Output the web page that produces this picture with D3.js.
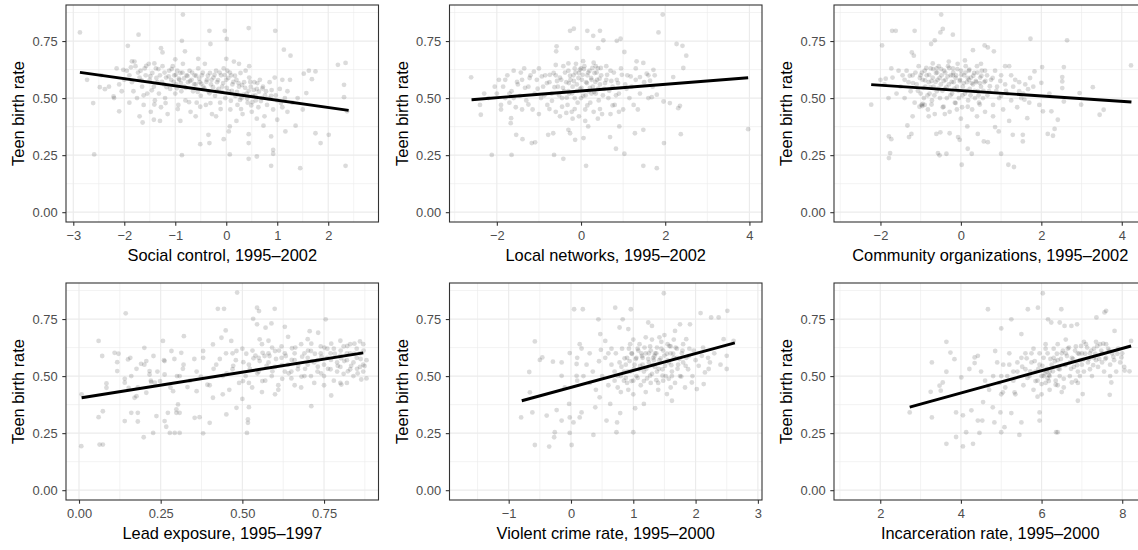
<!DOCTYPE html>
<html>
<head>
<meta charset="utf-8">
<script src="https://d3js.org/d3.v7.min.js"></script>
<style>
  html, body { margin: 0; padding: 0; background: #ffffff; }
  svg { display: block; }
</style>
</head>
<body>
<svg id="chart" width="1138" height="550"></svg>
<script>
// ---- Data -------------------------------------------------------------

const yTicks = [0, 0.25, 0.5, 0.75];
const yMinor = [0.125, 0.375, 0.625, 0.875];
const yLimits = [-0.043, 0.908];
const yTitle = "Teen birth rate";

const xTitles = [
  "Social control, 1995–2002",
  "Local networks, 1995–2002",
  "Community organizations, 1995–2002",
  "Lead exposure, 1995–1997",
  "Violent crime rate, 1995–2000",
  "Incarceration rate, 1995–2000"
];

const xLimits = [
  [-3.143, 2.986],
  [-3.124, 4.299],
  [-3.155, 4.615],
  [-0.0398, 0.9167],
  [-1.950, 3.066],
  [0.853, 8.602]
];

const xTicks = [
  [-3, -2, -1, 0, 1, 2],
  [-2, 0, 2, 4],
  [-2, 0, 2, 4],
  [0, 0.25, 0.5, 0.75],
  [-1, 0, 1, 2, 3],
  [2, 4, 6, 8]
];

const xMinor = [
  [-2.5, -1.5, -0.5, 0.5, 1.5, 2.5],
  [-3, -1, 1, 3],
  [-3, -1, 1, 3],
  [0.125, 0.375, 0.625, 0.875],
  [-1.5, -0.5, 0.5, 1.5, 2.5],
  [1, 3, 5, 7]
];

// fitted linear trend: [x start, y start, x end, y end]
const fitSocialControl = [-2.87, 0.613, 2.40, 0.446];
const fitLocalNetworks = [-2.60, 0.493, 3.97, 0.589];
const fitCommunityOrgs = [-2.23, 0.559, 4.24, 0.483];
const fitLeadExposure = [0.008, 0.405, 0.870, 0.602];
const fitViolentCrime = [-0.79, 0.392, 2.63, 0.646];
const fitIncarceration = [2.73, 0.364, 8.22, 0.632];

const ptsSocialControl = [
  [-2.87,0.788],[-1.72,0.778],[-0.85,0.866],[-0.33,0.795],[-0.03,0.795],[0.44,0.807],[0.96,0.795],
  [-0.87,0.751],[0.01,0.759],[-1.93,0.729],[-1.28,0.719],[-1.25,0.70],[-0.81,0.705],[-0.31,0.737],
  [1.13,0.712],[1.26,0.686],[-2.61,0.478],[-2.59,0.253],[-0.87,0.25],[0.07,0.253],[0.44,0.234],
  [0.60,0.244],[0.88,0.203],[1.45,0.193],[2.34,0.203],[2.34,0.654],[2.19,0.646],[2.31,0.558],
  [2.31,0.504],[2.37,0.442],[2.01,0.339],[1.75,0.346],[1.85,0.303],[1.36,0.379],[1.52,0.607],
  [1.62,0.62],[1.75,0.617],[1.68,0.583],[1.57,0.522],[-2.10,0.442],[-2.73,0.58],[-2.48,0.548],
  [-2.38,0.539],[-2.21,0.507],[-2.02,0.624],[-1.85,0.661],[-1.64,0.393],[-1.42,0.405],[-0.51,0.298],
  [-0.35,0.339],[-0.33,0.303],[-0.05,0.32],[0.05,0.354],[0.07,0.376],[0.44,0.342],[0.44,0.303],
  [0.88,0.332],[0.92,0.273],[0.92,0.256],[0.73,0.379],[1.00,0.405],[1.16,0.354],
  [-1.95,0.62],[-1.9,0.6],[-1.85,0.57],[-1.82,0.53],[-1.78,0.64],[-1.75,0.5],[-1.7,0.59],[-1.68,0.62],
  [-1.65,0.55],[-1.62,0.47],[-1.6,0.63],[-1.58,0.6],[-1.55,0.52],[-1.52,0.65],[-1.5,0.58],[-1.48,0.44],
  [-1.45,0.61],[-1.42,0.55],[-1.4,0.49],[-1.38,0.63],[-1.35,0.57],[-1.32,0.52],[-1.3,0.6],[-1.28,0.46],
  [-1.25,0.64],[-1.22,0.56],[-1.2,0.5],[-1.18,0.59],[-1.15,0.43],[-1.12,0.62],[-1.1,0.54],[-1.08,0.58],
  [-1.05,0.64],[-1.02,0.6],[-1.0,0.52],[-0.98,0.56],[-0.96,0.62],[-0.94,0.47],[-0.92,0.58],[-0.9,0.61],
  [-0.88,0.53],[-0.85,0.65],[-0.82,0.55],[-0.8,0.49],[-0.78,0.6],[-0.75,0.57],[-0.72,0.62],[-0.7,0.44],
  [-0.68,0.58],[-0.65,0.53],[-0.62,0.6],[-0.6,0.56],[-0.58,0.48],[-0.55,0.63],[-0.52,0.57],[-0.5,0.51],
  [-0.48,0.6],[-0.45,0.55],[-0.42,0.65],[-0.4,0.47],[-0.38,0.58],[-0.35,0.53],[-0.32,0.61],[-0.3,0.56],
  [-0.28,0.43],[-0.25,0.59],[-0.22,0.51],[-0.2,0.62],[-0.18,0.57],[-0.15,0.54],[-0.12,0.48],[-0.1,0.6],
  [-0.08,0.55],[-0.05,0.63],[-0.02,0.5],[0.0,0.58],[0.02,0.62],[0.05,0.53],[0.08,0.45],[0.1,0.6],
  [0.12,0.56],[0.15,0.66],[0.18,0.51],[0.2,0.58],[0.22,0.47],[0.25,0.55],[0.28,0.61],[0.3,0.5],
  [0.32,0.43],[0.35,0.57],[0.38,0.62],[0.4,0.52],[0.42,0.48],[0.45,0.59],[0.48,0.55],[0.5,0.44],
  [0.52,0.51],[0.55,0.57],[0.58,0.49],[0.6,0.54],[0.63,0.46],[0.66,0.58],[0.7,0.5],[0.72,0.55],
  [0.75,0.42],[0.78,0.53],[0.8,0.47],[0.85,0.57],[0.88,0.51],[0.92,0.45],[0.95,0.59],[1.0,0.49],
  [1.05,0.54],[1.1,0.46],[1.15,0.5],[1.2,0.44],[1.25,0.58],[1.3,0.48],[-2.2,0.5],[-2.1,0.56],
  [-2.0,0.58],[-1.9,0.48],[-2.3,0.55],[-1.7,0.42],[-1.3,0.4],[-0.9,0.4],[-0.6,0.42],[-0.2,0.42],
  [0.2,0.4],[0.6,0.41],
  [-1.87,0.635],[-1.73,0.612],[-1.66,0.578],[-1.57,0.641],[-1.49,0.596],[-1.46,0.534],[-1.37,0.588],
  [-1.33,0.627],[-1.26,0.571],[-1.21,0.612],[-1.17,0.548],[-1.13,0.595],[-1.07,0.627],[-1.03,0.571],
  [-0.99,0.602],[-0.97,0.543],[-0.93,0.585],[-0.89,0.566],[-0.86,0.612],[-0.83,0.586],[-0.79,0.545],
  [-0.76,0.597],[-0.71,0.575],[-0.67,0.612],[-0.63,0.561],[-0.59,0.598],[-0.56,0.527],[-0.53,0.585],
  [-0.49,0.563],[-0.46,0.611],[-0.43,0.542],[-0.39,0.571],[-0.36,0.598],[-0.33,0.521],[-0.29,0.58],
  [-0.26,0.548],[-0.23,0.602],[-0.19,0.532],[-0.16,0.579],[-0.13,0.612],[-0.09,0.527],[-0.06,0.566],
  [-0.03,0.601],[0.01,0.545],[0.04,0.588],[0.07,0.612],[0.11,0.532],[0.14,0.571],[0.17,0.598],
  [0.21,0.527],[0.24,0.566],[0.27,0.492],[0.31,0.557],[0.34,0.515],[0.37,0.545],[0.41,0.498],
  [0.44,0.532],[0.47,0.571],[0.51,0.482],[0.54,0.536],[0.57,0.512],[0.61,0.566],[0.64,0.528],
  [0.68,0.487],[0.71,0.542],[0.76,0.512],[0.83,0.498],[0.89,0.535],[0.97,0.512],[1.07,0.478],
  [-1.62,0.512],[-1.41,0.472],[-1.19,0.478],[-0.95,0.452],[-0.73,0.482],[-0.51,0.462],[-0.31,0.478],
  [-0.11,0.452],[0.09,0.488],[0.29,0.452],[0.49,0.468],[-1.8,0.66],[-1.41,0.652],[-1.0,0.67],
  [-0.55,0.672],[0.0,0.672],[0.25,0.65],[0.45,0.64],[-2.05,0.53],[-2.45,0.6],[-2.15,0.63],
  [1.4,0.5],[1.5,0.45],[1.1,0.58],[1.2,0.53]
];

const ptsLocalNetworks = [
  [-2.61,0.591],[-2.38,0.427],[-2.12,0.251],[-1.65,0.251],[-1.54,0.339],[-1.39,0.32],[-1.17,0.303],
  [-1.09,0.306],[-1.66,0.412],[-1.67,0.39],[-0.78,0.339],[-0.66,0.346],[-0.64,0.251],[-0.42,0.234],
  [-0.26,0.346],[-0.30,0.361],[-0.14,0.317],[0.06,0.325],[0.12,0.203],[-0.26,0.795],[-0.17,0.804],
  [0.15,0.795],[0.45,0.795],[0.29,0.773],[0.53,0.753],[0.85,0.751],[0.94,0.76],[1.03,0.702],
  [-0.10,0.719],[-0.58,0.727],[-0.59,0.705],[0.41,0.719],[1.84,0.788],[1.94,0.866],[2.27,0.737],
  [2.41,0.729],[2.50,0.686],[2.43,0.632],[2.19,0.592],[2.11,0.478],[1.96,0.485],[2.31,0.456],
  [2.35,0.466],[2.37,0.342],[1.97,0.303],[1.48,0.203],[1.80,0.193],[1.48,0.361],[1.28,0.346],
  [0.83,0.278],[1.03,0.256],[0.69,0.329],[0.91,0.376],[0.17,0.376],[3.97,0.364],[1.72,0.624],
  [1.68,0.504],[1.80,0.515],[1.64,0.576],[1.40,0.592],[1.32,0.661],[1.48,0.654],[1.56,0.607],
  [-2.0,0.52],[-1.95,0.58],[-1.9,0.47],[-1.85,0.55],[-1.8,0.5],[-1.75,0.6],[-1.7,0.48],[-1.65,0.53],
  [-1.6,0.62],[-1.55,0.46],[-1.5,0.56],[-1.45,0.51],[-1.4,0.58],[-1.35,0.63],[-1.3,0.49],[-1.25,0.55],
  [-1.2,0.6],[-1.15,0.45],[-1.1,0.52],[-1.05,0.58],[-1.0,0.63],[-0.95,0.5],[-0.9,0.55],[-0.85,0.6],
  [-0.8,0.47],[-0.75,0.57],[-0.7,0.52],[-0.65,0.61],[-0.6,0.44],[-0.55,0.55],[-0.5,0.59],[-0.45,0.5],
  [-0.42,0.64],[-0.4,0.53],[-0.35,0.57],[-0.32,0.47],[-0.3,0.62],[-0.28,0.52],[-0.25,0.58],[-0.22,0.44],
  [-0.2,0.55],[-0.18,0.6],[-0.15,0.5],[-0.12,0.65],[-0.1,0.56],[-0.08,0.48],[-0.05,0.61],[-0.02,0.54],
  [0.0,0.63],[0.02,0.58],[0.05,0.51],[0.08,0.64],[0.1,0.45],[0.12,0.57],[0.15,0.6],[0.18,0.53],
  [0.2,0.62],[0.22,0.48],[0.25,0.58],[0.28,0.55],[0.3,0.44],[0.32,0.61],[0.35,0.52],[0.38,0.58],
  [0.4,0.63],[0.42,0.49],[0.45,0.56],[0.48,0.6],[0.5,0.43],[0.55,0.54],[0.6,0.58],[0.65,0.5],
  [0.7,0.62],[0.75,0.55],[0.8,0.47],[0.85,0.58],[0.9,0.52],[0.95,0.63],[1.0,0.45],[1.05,0.56],
  [1.1,0.6],[1.15,0.5],[1.2,0.55],[1.25,0.47],[1.3,0.58],[1.4,0.52],[1.5,0.57],[1.6,0.6],
  [-0.5,0.42],[-0.2,0.41],[0.1,0.4],[0.4,0.41],[0.7,0.43],[-1.0,0.43],[-1.4,0.45],[0.0,0.5],
  [-0.3,0.53],[0.25,0.52],[-0.6,0.6],[0.6,0.64],[-0.15,0.63],[0.35,0.64],[-1.6,0.5],[1.7,0.55],
  [-2.2,0.5],[-2.4,0.47],
  [-1.52,0.571],[-1.43,0.612],[-1.33,0.545],[-1.22,0.588],[-1.12,0.616],[-1.03,0.541],[-0.93,0.595],
  [-0.87,0.512],[-0.81,0.566],[-0.74,0.602],[-0.69,0.488],[-0.63,0.548],[-0.57,0.575],[-0.52,0.512],
  [-0.47,0.58],[-0.43,0.545],[-0.38,0.612],[-0.34,0.502],[-0.29,0.566],[-0.26,0.598],[-0.21,0.521],
  [-0.17,0.575],[-0.13,0.612],[-0.09,0.532],[-0.06,0.588],[-0.03,0.625],[0.01,0.545],[0.04,0.602],
  [0.07,0.627],[0.11,0.512],[0.14,0.566],[0.17,0.612],[0.21,0.545],[0.24,0.588],[0.27,0.632],
  [0.31,0.527],[0.34,0.571],[0.37,0.612],[0.41,0.541],[0.44,0.585],[0.47,0.632],[0.52,0.512],
  [0.57,0.566],[0.62,0.602],[0.67,0.532],[0.72,0.575],[0.78,0.612],[0.83,0.512],[0.88,0.566],
  [0.97,0.602],[1.08,0.541],[1.18,0.595],[-0.45,0.462],[-0.15,0.452],[0.15,0.468],[0.45,0.452],
  [-0.75,0.452],[-1.25,0.472],[0.75,0.468],[-0.3,0.652],[0.05,0.662],[0.3,0.655],[-0.6,0.645],
  [-1.8,0.58],[-1.9,0.45],[-2.05,0.55],[1.75,0.6],[1.6,0.5],[1.3,0.63],[0.9,0.44],[-0.05,0.42],
  [-0.35,0.435],[1.35,0.45],[-1.7,0.52],[-2.3,0.52]
];

const ptsCommunityOrgs = [
  [-2.23,0.471],[-1.96,0.731],[-1.87,0.585],[-1.79,0.332],[-1.73,0.32],[-1.76,0.259],[-1.79,0.237],
  [-1.71,0.795],[-1.62,0.795],[-1.73,0.63],[-1.33,0.38],[-1.29,0.329],[-1.23,0.343],[-1.15,0.795],
  [-1.22,0.70],[-1.17,0.686],[-0.74,0.737],[-0.65,0.753],[-0.51,0.788],[-0.45,0.803],[-0.49,0.866],
  [-0.20,0.778],[-0.61,0.343],[-0.51,0.35],[-0.28,0.346],[-0.57,0.259],[-0.53,0.249],[-0.36,0.256],
  [-0.07,0.329],[-0.03,0.317],[0.02,0.208],[0.17,0.278],[0.27,0.256],[0.16,0.376],[0.42,0.343],
  [0.30,0.71],[0.59,0.731],[0.67,0.722],[0.82,0.705],[0.57,0.31],[0.67,0.307],[0.85,0.373],
  [0.94,0.354],[1.00,0.256],[1.18,0.208],[1.32,0.198],[1.29,0.339],[1.54,0.339],[1.54,0.31],
  [1.73,0.76],[2.64,0.753],[2.56,0.636],[2.52,0.592],[2.52,0.573],[2.52,0.544],[2.56,0.485],
  [2.25,0.442],[2.16,0.343],[2.29,0.335],[2.33,0.365],[2.41,0.405],[2.95,0.522],[2.99,0.471],
  [3.28,0.548],[3.45,0.427],[3.55,0.449],[4.23,0.643],[2.02,0.636],[2.00,0.567],[2.04,0.442],
  [1.83,0.617],[1.72,0.588],[1.67,0.539],[1.58,0.493],[1.65,0.412],
  [-1.5,0.55],[-1.45,0.6],[-1.4,0.5],[-1.35,0.62],[-1.3,0.57],[-1.25,0.53],[-1.2,0.6],[-1.15,0.48],
  [-1.1,0.56],[-1.05,0.64],[-1.0,0.52],[-0.98,0.47],[-0.95,0.58],[-0.92,0.5],[-0.9,0.62],[-0.88,0.55],
  [-0.85,0.6],[-0.82,0.45],[-0.8,0.57],[-0.78,0.52],[-0.75,0.63],[-0.72,0.49],[-0.7,0.59],[-0.68,0.55],
  [-0.65,0.43],[-0.62,0.61],[-0.6,0.53],[-0.58,0.58],[-0.55,0.64],[-0.52,0.5],[-0.5,0.56],[-0.48,0.6],
  [-0.45,0.46],[-0.42,0.62],[-0.4,0.54],[-0.38,0.58],[-0.35,0.5],[-0.32,0.64],[-0.3,0.56],[-0.28,0.44],
  [-0.25,0.6],[-0.22,0.52],[-0.2,0.63],[-0.18,0.57],[-0.15,0.48],[-0.12,0.6],[-0.1,0.55],[-0.08,0.65],
  [-0.05,0.5],[-0.02,0.58],[0.0,0.62],[0.03,0.46],[0.05,0.55],[0.08,0.6],[0.1,0.52],[0.12,0.64],
  [0.15,0.57],[0.18,0.49],[0.2,0.62],[0.22,0.54],[0.25,0.59],[0.28,0.45],[0.3,0.56],[0.33,0.61],
  [0.35,0.5],[0.38,0.57],[0.4,0.64],[0.42,0.53],[0.45,0.48],[0.48,0.59],[0.5,0.55],[0.52,0.62],
  [0.55,0.5],[0.58,0.57],[0.6,0.44],[0.65,0.6],[0.7,0.53],[0.75,0.58],[0.8,0.47],[0.85,0.62],
  [0.9,0.55],[0.95,0.5],[1.0,0.6],[1.05,0.45],[1.1,0.56],[1.15,0.52],[1.2,0.64],[1.25,0.49],
  [1.3,0.55],[1.35,0.58],[1.4,0.46],[1.45,0.53],[1.5,0.5],[1.6,0.56],[1.7,0.48],[-1.6,0.52],
  [-1.7,0.59],[-1.8,0.5],[-1.9,0.56],[-2.0,0.58],[-1.2,0.42],[-0.8,0.42],[-0.4,0.43],[0.0,0.41],
  [0.4,0.42],[0.8,0.42],[1.2,0.4],[-1.0,0.6],[-0.6,0.63],[-0.2,0.6],[0.2,0.58],[0.6,0.62],
  [-0.9,0.47],[-0.1,0.45],[1.0,0.51],
  [-1.27,0.598],[-1.19,0.566],[-1.13,0.612],[-1.07,0.532],[-1.02,0.588],[-0.97,0.612],[-0.93,0.545],
  [-0.89,0.578],[-0.86,0.632],[-0.83,0.512],[-0.79,0.602],[-0.76,0.548],[-0.73,0.575],[-0.69,0.627],
  [-0.66,0.512],[-0.63,0.571],[-0.59,0.612],[-0.56,0.541],[-0.53,0.588],[-0.49,0.627],[-0.46,0.532],
  [-0.43,0.575],[-0.39,0.612],[-0.36,0.548],[-0.33,0.595],[-0.29,0.632],[-0.26,0.512],[-0.23,0.571],
  [-0.19,0.612],[-0.16,0.541],[-0.13,0.588],[-0.09,0.627],[-0.06,0.532],[-0.03,0.575],[0.01,0.602],
  [0.04,0.512],[0.07,0.566],[0.11,0.612],[0.14,0.532],[0.17,0.588],[0.21,0.625],[0.24,0.512],
  [0.27,0.566],[0.31,0.598],[0.34,0.532],[0.37,0.575],[0.41,0.612],[0.44,0.512],[0.47,0.566],
  [0.51,0.598],[0.56,0.532],[0.61,0.575],[0.66,0.512],[0.72,0.552],[0.79,0.588],[0.88,0.532],
  [0.98,0.575],[1.12,0.532],[-1.03,0.462],[-0.73,0.472],[-0.43,0.462],[-0.13,0.478],[0.17,0.462],
  [0.47,0.472],[-0.96,0.465],[-0.95,0.475],[-1.4,0.58],[-1.55,0.62],[1.25,0.6],[1.45,0.57],
  [1.55,0.52],[1.8,0.55],[1.95,0.47],[2.2,0.52],[-0.3,0.66],[0.1,0.665],[0.5,0.65],[-0.7,0.652],
  [1.1,0.64]
];

const ptsLeadExposure = [
  [0.007,0.193],[0.008,0.42],[0.06,0.654],[0.06,0.32],[0.063,0.2],[0.073,0.2],[0.071,0.588],
  [0.073,0.346],[0.084,0.468],[0.084,0.449],[0.109,0.602],[0.117,0.561],[0.117,0.522],[0.14,0.488],
  [0.14,0.471],[0.143,0.775],[0.14,0.303],[0.15,0.573],[0.157,0.58],[0.16,0.339],[0.17,0.405],
  [0.176,0.412],[0.176,0.532],[0.18,0.301],[0.18,0.339],[0.19,0.554],[0.198,0.232],[0.2,0.624],
  [0.206,0.566],[0.206,0.427],[0.216,0.522],[0.216,0.507],[0.221,0.474],[0.232,0.471],[0.227,0.251],
  [0.237,0.325],[0.257,0.654],[0.262,0.566],[0.262,0.507],[0.262,0.303],[0.267,0.278],[0.272,0.339],
  [0.278,0.251],[0.283,0.61],[0.288,0.434],[0.293,0.251],[0.298,0.354],[0.298,0.339],[0.303,0.376],
  [0.308,0.251],[0.308,0.339],[0.308,0.5],[0.313,0.602],[0.321,0.675],[0.36,0.434],[0.354,0.317],
  [0.369,0.32],[0.38,0.249],[0.38,0.61],[0.41,0.639],[0.41,0.405],[0.40,0.295],[0.425,0.795],
  [0.444,0.795],[0.436,0.668],[0.449,0.70],[0.451,0.332],[0.484,0.866],[0.466,0.654],[0.482,0.61],
  [0.482,0.361],[0.517,0.31],[0.517,0.295],[0.514,0.251],[0.52,0.364],[0.533,0.751],[0.545,0.80],
  [0.551,0.785],[0.545,0.727],[0.553,0.661],[0.568,0.588],[0.571,0.712],[0.599,0.795],[0.589,0.731],
  [0.63,0.716],[0.706,0.697],[0.711,0.368],[0.732,0.69],[0.755,0.749],[0.772,0.415],[0.864,0.485],
  [0.874,0.544],[0.803,0.463],
  [0.4,0.46],[0.42,0.55],[0.44,0.5],[0.45,0.6],[0.46,0.44],[0.47,0.53],[0.48,0.57],[0.49,0.47],
  [0.5,0.62],[0.51,0.5],[0.52,0.55],[0.53,0.45],[0.54,0.59],[0.55,0.52],[0.56,0.64],[0.57,0.48],
  [0.58,0.56],[0.58,0.6],[0.59,0.5],[0.6,0.54],[0.61,0.46],[0.62,0.58],[0.62,0.63],[0.63,0.52],
  [0.64,0.55],[0.65,0.49],[0.66,0.6],[0.66,0.57],[0.67,0.53],[0.68,0.64],[0.69,0.5],[0.7,0.58],
  [0.7,0.55],[0.71,0.61],[0.72,0.47],[0.72,0.56],[0.73,0.52],[0.74,0.6],[0.74,0.63],[0.75,0.55],
  [0.75,0.5],[0.76,0.58],[0.77,0.6],[0.77,0.53],[0.78,0.62],[0.78,0.48],[0.79,0.56],[0.8,0.59],
  [0.8,0.54],[0.81,0.63],[0.81,0.51],[0.82,0.57],[0.82,0.6],[0.83,0.53],[0.83,0.64],[0.84,0.56],
  [0.84,0.5],[0.85,0.62],[0.85,0.58],[0.86,0.54],[0.86,0.6],[0.87,0.52],[0.87,0.64],[0.88,0.57],
  [0.88,0.49],[0.36,0.52],[0.38,0.58],[0.34,0.48],[0.32,0.55],[0.3,0.5],[0.28,0.45],[0.26,0.57],
  [0.24,0.52],[0.22,0.48],[0.2,0.55],[0.18,0.45],[0.16,0.5],[0.44,0.42],[0.5,0.4],[0.56,0.43],
  [0.6,0.42],[0.66,0.46],[0.52,0.47],[0.47,0.6],[0.6,0.61],[0.65,0.52],[0.69,0.6],[0.73,0.57],
  [0.79,0.52],[0.83,0.6],[0.87,0.55],[0.55,0.58],[0.63,0.6],[0.71,0.5],[0.76,0.62],[0.8,0.47],
  [0.503,0.561],[0.512,0.598],[0.523,0.532],[0.534,0.578],[0.546,0.512],[0.553,0.566],[0.562,0.602],
  [0.574,0.545],[0.583,0.588],[0.592,0.521],[0.603,0.575],[0.612,0.612],[0.621,0.548],[0.633,0.588],
  [0.642,0.512],[0.651,0.571],[0.662,0.625],[0.671,0.545],[0.683,0.585],[0.692,0.532],[0.701,0.612],
  [0.713,0.566],[0.722,0.598],[0.731,0.541],[0.742,0.585],[0.751,0.625],[0.762,0.532],[0.771,0.571],
  [0.783,0.598],[0.792,0.545],[0.801,0.612],[0.812,0.566],[0.821,0.632],[0.833,0.545],[0.842,0.598],
  [0.851,0.532],[0.862,0.575],[0.871,0.612],[0.843,0.642],[0.823,0.521],[0.853,0.512],[0.802,0.578],
  [0.772,0.642],[0.741,0.512],[0.711,0.642],[0.681,0.498],[0.652,0.622],[0.622,0.488],[0.591,0.625],
  [0.561,0.478],[0.531,0.612],[0.502,0.478],[0.472,0.545],[0.452,0.512],[0.431,0.575],[0.412,0.532],
  [0.393,0.462],[0.373,0.498],[0.353,0.575],[0.332,0.452],[0.318,0.532],[0.292,0.575],[0.248,0.478],
  [0.228,0.588],[0.152,0.448],[0.121,0.598],[0.61,0.44],[0.68,0.45],[0.75,0.46],[0.82,0.47],
  [0.58,0.655],[0.7,0.662],[0.8,0.655],[0.86,0.652],[0.64,0.672]
];

const ptsViolentCrime = [
  [-0.80,0.319],[-0.67,0.518],[-0.66,0.429],[-0.62,0.341],[-0.58,0.652],[-0.58,0.198],[-0.50,0.571],
  [-0.46,0.582],[-0.39,0.327],[-0.35,0.191],[-0.29,0.563],[-0.23,0.351],[-0.26,0.254],[-0.27,0.232],
  [-0.15,0.56],[-0.15,0.305],[-0.15,0.501],[-0.03,0.378],[-0.02,0.601],[-0.02,0.319],[-0.02,0.251],
  [0.01,0.198],[0.04,0.297],[0.05,0.793],[0.19,0.793],[0.09,0.553],[0.09,0.501],[0.14,0.319],
  [0.17,0.341],[0.14,0.64],[0.17,0.621],[0.36,0.242],[0.39,0.363],[0.44,0.749],[0.47,0.684],
  [0.48,0.615],[0.46,0.407],[0.57,0.305],[0.55,0.654],[0.63,0.378],[0.73,0.254],[0.74,0.297],
  [0.79,0.338],[0.71,0.80],[0.78,0.713],[0.83,0.749],[0.92,0.706],[0.96,0.793],[1.00,0.254],
  [1.03,0.359],[1.17,0.378],[1.24,0.735],[1.30,0.72],[1.49,0.863],[1.62,0.392],[1.54,0.421],
  [1.67,0.698],[1.75,0.727],[1.91,0.727],[1.85,0.662],[1.94,0.472],[2.02,0.443],[2.08,0.776],
  [2.25,0.757],[2.37,0.757],[2.51,0.786],[2.21,0.531],[2.23,0.56],[2.10,0.589],[2.15,0.516],
  [2.50,0.531],[2.50,0.589],[2.45,0.662],[2.61,0.654],[2.13,0.465],
  [0.5,0.5],[0.55,0.58],[0.6,0.46],[0.65,0.55],[0.7,0.52],[0.72,0.6],[0.75,0.45],[0.78,0.56],
  [0.8,0.5],[0.82,0.62],[0.85,0.48],[0.88,0.55],[0.9,0.58],[0.92,0.44],[0.95,0.52],[0.97,0.6],
  [1.0,0.48],[1.02,0.55],[1.05,0.5],[1.07,0.62],[1.1,0.53],[1.12,0.46],[1.15,0.58],[1.17,0.52],
  [1.2,0.6],[1.22,0.49],[1.25,0.56],[1.27,0.63],[1.3,0.51],[1.32,0.58],[1.35,0.54],[1.37,0.6],
  [1.4,0.47],[1.42,0.57],[1.45,0.62],[1.47,0.53],[1.5,0.59],[1.52,0.5],[1.55,0.64],[1.57,0.56],
  [1.6,0.6],[1.62,0.52],[1.65,0.58],[1.67,0.47],[1.7,0.62],[1.72,0.55],[1.75,0.5],[1.78,0.6],
  [1.8,0.56],[1.83,0.45],[1.85,0.58],[1.88,0.53],[1.9,0.62],[1.95,0.5],[2.0,0.57],[1.0,0.42],
  [1.2,0.43],[1.4,0.44],[0.8,0.43],[1.6,0.45],[0.3,0.47],[0.35,0.52],[0.4,0.44],[0.25,0.55],
  [0.2,0.5],[0.1,0.48],[1.1,0.64],[1.3,0.66],[1.5,0.68],[1.45,0.65],[0.95,0.64],[0.65,0.62],
  [1.25,0.6],[1.15,0.55],[1.35,0.6],[1.55,0.57],[1.05,0.58],[0.85,0.52],[1.7,0.58],[1.6,0.63],
  [0.75,0.5],[1.38,0.52],[0.9,0.47],[1.48,0.48],[1.62,0.5],[1.28,0.47],
  [0.81,0.541],[0.86,0.578],[0.91,0.521],[0.94,0.566],[0.98,0.598],[1.01,0.532],[1.04,0.575],
  [1.08,0.612],[1.11,0.545],[1.14,0.588],[1.18,0.625],[1.21,0.532],[1.24,0.575],[1.28,0.612],
  [1.31,0.548],[1.34,0.588],[1.38,0.625],[1.41,0.532],[1.44,0.578],[1.48,0.612],[1.51,0.545],
  [1.54,0.598],[1.58,0.632],[1.61,0.548],[1.64,0.598],[1.68,0.625],[1.71,0.532],[1.74,0.575],
  [1.79,0.612],[1.84,0.545],[1.89,0.588],[1.97,0.612],[0.88,0.492],[0.97,0.478],[1.07,0.492],
  [1.17,0.478],[1.27,0.502],[1.37,0.482],[1.47,0.502],[1.57,0.488],[1.77,0.498],[2.05,0.545],
  [2.12,0.625],[2.2,0.58],[2.3,0.6],[2.4,0.55],[0.45,0.565],[0.6,0.6],[0.7,0.48],[0.3,0.6],
  [0.1,0.58],[-0.1,0.45],[1.0,0.66],[1.2,0.67],[1.42,0.67],[1.65,0.66],[1.8,0.64],[0.93,0.62],
  [1.13,0.6],[1.33,0.57]
];

const ptsIncarceration = [
  [2.73,0.341],[3.28,0.56],[3.28,0.319],[3.25,0.431],[3.47,0.458],[3.50,0.436],[3.55,0.472],
  [3.64,0.65],[3.64,0.519],[3.64,0.203],[3.74,0.603],[3.84,0.574],[3.88,0.341],[3.88,0.233],
  [4.01,0.494],[4.05,0.328],[4.05,0.192],[4.13,0.254],[4.21,0.531],[4.26,0.35],[4.30,0.203],
  [4.34,0.557],[4.34,0.582],[4.42,0.589],[4.42,0.305],[4.46,0.251],[4.53,0.305],[4.55,0.386],
  [4.67,0.793],[4.67,0.458],[4.79,0.363],[4.83,0.297],[4.85,0.61],[5.00,0.709],[5.00,0.254],
  [4.98,0.341],[5.04,0.429],[5.08,0.276],[5.25,0.749],[5.25,0.338],[5.33,0.429],[5.45,0.242],
  [5.50,0.297],[5.50,0.684],[5.66,0.793],[5.91,0.80],[6.03,0.863],[5.95,0.305],[5.95,0.341],
  [6.16,0.749],[6.36,0.254],[6.40,0.254],[6.24,0.735],[6.45,0.735],[6.49,0.793],[6.57,0.72],
  [6.74,0.72],[6.88,0.727],[6.90,0.392],[7.02,0.421],[7.36,0.757],[7.56,0.779],[7.60,0.786],
  [7.73,0.472],[7.69,0.418],[7.81,0.698],[7.98,0.582],[8.06,0.524],[8.18,0.521],[8.22,0.654],
  [5.0,0.5],[5.1,0.45],[5.2,0.55],[5.3,0.48],[5.4,0.52],[5.5,0.58],[5.55,0.46],[5.6,0.53],
  [5.7,0.5],[5.75,0.56],[5.8,0.44],[5.85,0.52],[5.9,0.48],[5.95,0.55],[6.0,0.5],[6.05,0.58],
  [6.1,0.47],[6.12,0.52],[6.15,0.6],[6.2,0.5],[6.25,0.55],[6.3,0.62],[6.35,0.48],[6.4,0.57],
  [6.45,0.53],[6.5,0.6],[6.55,0.45],[6.6,0.55],[6.65,0.62],[6.7,0.5],[6.75,0.58],[6.8,0.54],
  [6.85,0.63],[6.9,0.47],[6.95,0.57],[7.0,0.6],[7.05,0.52],[7.1,0.64],[7.15,0.56],[7.2,0.6],
  [7.25,0.5],[7.3,0.62],[7.35,0.57],[7.4,0.54],[7.45,0.64],[7.5,0.6],[7.55,0.52],[7.6,0.58],
  [7.65,0.62],[7.7,0.55],[7.75,0.6],[7.8,0.57],[7.85,0.52],[7.9,0.62],[7.95,0.56],[8.0,0.6],
  [8.05,0.54],[6.0,0.42],[6.2,0.44],[6.5,0.43],[5.9,0.41],[6.4,0.46],[5.6,0.6],[5.8,0.62],
  [6.1,0.64],[6.3,0.58],[6.6,0.6],[6.2,0.52],[6.05,0.5],[6.15,0.49],[5.95,0.6],[6.45,0.5],
  [6.7,0.56],[7.0,0.55],[7.3,0.58],[7.6,0.64],[6.9,0.6],[4.8,0.5],[4.9,0.56],[4.6,0.48],
  [4.5,0.52],[4.7,0.44],[5.2,0.6],[5.35,0.42],[6.85,0.48],[7.2,0.53],
  [5.52,0.541],[5.63,0.578],[5.72,0.521],[5.83,0.566],[5.92,0.532],[6.02,0.545],[6.08,0.512],
  [6.13,0.531],[6.18,0.505],[6.22,0.575],[6.28,0.521],[6.33,0.565],[6.38,0.598],[6.42,0.532],
  [6.48,0.575],[6.53,0.612],[6.58,0.548],[6.63,0.588],[6.68,0.625],[6.73,0.532],[6.78,0.575],
  [6.83,0.612],[6.88,0.548],[6.93,0.598],[6.98,0.632],[7.03,0.572],[7.08,0.598],[7.13,0.625],
  [7.18,0.575],[7.23,0.612],[7.28,0.548],[7.33,0.598],[7.38,0.632],[7.43,0.575],[7.48,0.612],
  [7.53,0.642],[7.58,0.575],[7.68,0.612],[7.78,0.585],[7.88,0.598],[5.65,0.492],[5.85,0.478],
  [6.0,0.465],[6.18,0.478],[6.35,0.462],[6.55,0.488],[6.75,0.472],[6.95,0.5],[5.4,0.56],
  [5.3,0.52],[5.15,0.5],[4.95,0.47],[5.05,0.55],[6.1,0.62],[6.4,0.64],[6.6,0.66],[7.05,0.65],
  [7.35,0.65],[5.75,0.6],[6.9,0.52],[7.5,0.56],[7.7,0.5],[5.0,0.42]
];

const panelPoints = [ptsSocialControl, ptsLocalNetworks, ptsCommunityOrgs,
                     ptsLeadExposure, ptsViolentCrime, ptsIncarceration];
const panelFits = [fitSocialControl, fitLocalNetworks, fitCommunityOrgs,
                   fitLeadExposure, fitViolentCrime, fitIncarceration];
const xFormats = [d3.format("d"), d3.format("d"), d3.format("d"),
                  d3.format(".2f"), d3.format("d"), d3.format("d")];

// ---- Layout -----------------------------------------------------------

const colLeft = [66, 449.5, 834];
const rowTop = [5, 283];
const panelW = 312.5;
const panelH = 217;

const FONT = "'Liberation Sans', Arial, Helvetica, sans-serif";
const GRID = "#ebebeb";
const BORDER = "#333333";
const TICK_TEXT = "#4d4d4d";

const svg = d3.select("#chart");
svg.append("rect").attr("width", 1138).attr("height", 550).attr("fill", "#ffffff");

const y = d3.scaleLinear().domain(yLimits).range([panelH, 0]);

for (let i = 0; i < 6; i++) {
  const col = i % 3, row = Math.floor(i / 3);
  const x = d3.scaleLinear().domain(xLimits[i]).range([0, panelW]);
  const g = svg.append("g")
    .attr("transform", `translate(${colLeft[col]},${rowTop[row]})`);

  const clipId = `clip-${i}`;
  g.append("clipPath").attr("id", clipId)
    .append("rect").attr("width", panelW).attr("height", panelH);

  const plot = g.append("g").attr("clip-path", `url(#${clipId})`);
  plot.append("rect").attr("width", panelW).attr("height", panelH).attr("fill", "#ffffff");

  // minor grid
  plot.selectAll(".xminor").data(xMinor[i]).join("line")
    .attr("x1", d => x(d)).attr("x2", d => x(d))
    .attr("y1", 0).attr("y2", panelH)
    .attr("stroke", GRID).attr("stroke-width", 0.6);
  plot.selectAll(".yminor").data(yMinor).join("line")
    .attr("y1", d => y(d)).attr("y2", d => y(d))
    .attr("x1", 0).attr("x2", panelW)
    .attr("stroke", GRID).attr("stroke-width", 0.6);
  // major grid
  plot.selectAll(".xmajor").data(xTicks[i]).join("line")
    .attr("x1", d => x(d)).attr("x2", d => x(d))
    .attr("y1", 0).attr("y2", panelH)
    .attr("stroke", GRID).attr("stroke-width", 1.15);
  plot.selectAll(".ymajor").data(yTicks).join("line")
    .attr("y1", d => y(d)).attr("y2", d => y(d))
    .attr("x1", 0).attr("x2", panelW)
    .attr("stroke", GRID).attr("stroke-width", 1.15);

  // points
  plot.append("g").selectAll("circle").data(panelPoints[i]).join("circle")
    .attr("cx", d => x(d[0])).attr("cy", d => y(d[1]))
    .attr("r", 2.4)
    .attr("fill", "#000000").attr("fill-opacity", 0.14);

  // trend line
  const f = panelFits[i];
  plot.append("path")
    .datum([[f[0], f[1]], [f[2], f[3]]])
    .attr("d", d3.line().x(d => x(d[0])).y(d => y(d[1])))
    .attr("fill", "none").attr("stroke", "#000000")
    .attr("stroke-width", 2.9).attr("stroke-linecap", "butt");

  // panel border
  g.append("rect").attr("width", panelW).attr("height", panelH)
    .attr("fill", "none").attr("stroke", BORDER).attr("stroke-width", 1.1);

  // axes
  const xAxis = g.append("g").attr("transform", `translate(0,${panelH})`)
    .call(d3.axisBottom(x).tickValues(xTicks[i]).tickFormat(xFormats[i])
      .tickSize(3.7).tickSizeOuter(0).tickPadding(5.4));
  const yAxis = g.append("g")
    .call(d3.axisLeft(y).tickValues(yTicks).tickFormat(d3.format(".2f"))
      .tickSize(3.7).tickSizeOuter(0).tickPadding(4.6));
  [xAxis, yAxis].forEach(a => {
    a.select(".domain").remove();
    a.selectAll(".tick line").attr("stroke", BORDER).attr("stroke-width", 1.1);
    a.selectAll(".tick text").attr("fill", TICK_TEXT)
      .style("font-family", FONT).style("font-size", "12.9px");
  });

  // axis titles
  g.append("text")
    .attr("x", panelW / 2).attr("y", panelH + 38.5)
    .attr("text-anchor", "middle")
    .style("font-family", FONT).style("font-size", "16.4px").attr("fill", "#000000")
    .text(xTitles[i]);
  g.append("text")
    .attr("transform", `translate(-42,${panelH / 2}) rotate(-90)`)
    .attr("text-anchor", "middle")
    .style("font-family", FONT).style("font-size", "16.4px").attr("fill", "#000000")
    .text(yTitle);
}
</script>
</body>
</html>
